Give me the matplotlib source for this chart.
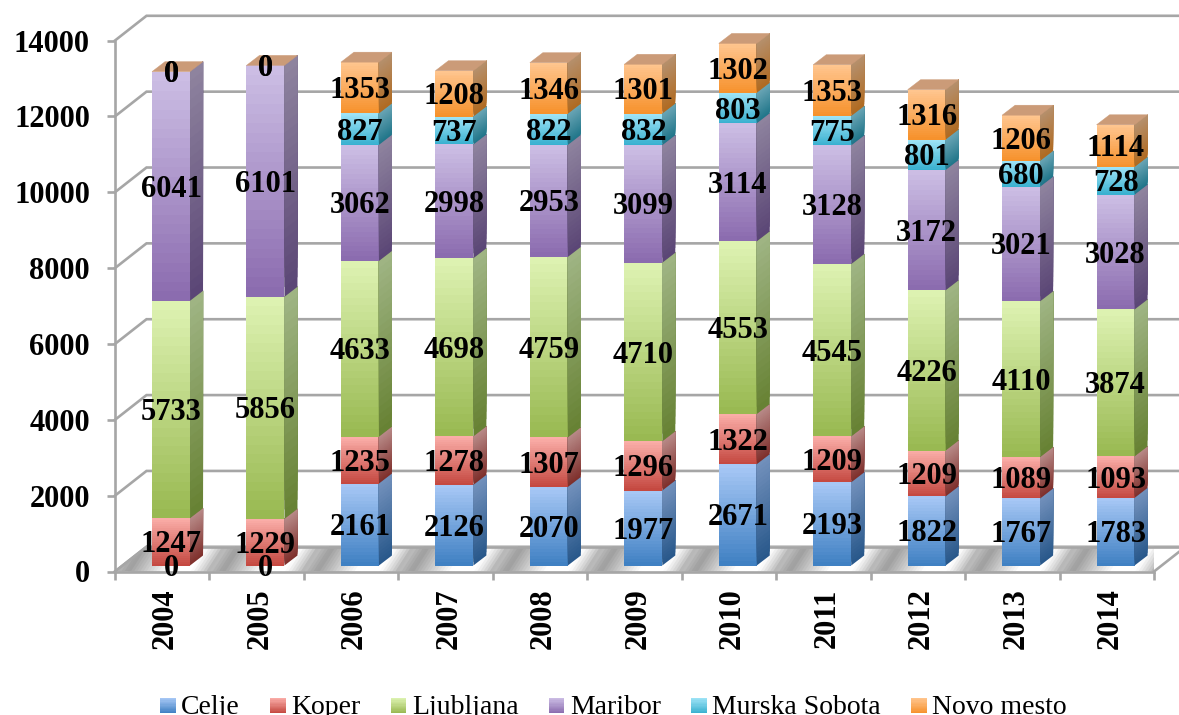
import numpy as np
import matplotlib
matplotlib.use('Agg')
import matplotlib.pyplot as plt
from matplotlib.collections import PolyCollection
from matplotlib.colors import to_rgb
from matplotlib.legend_handler import HandlerBase
from matplotlib.patches import Patch, Polygon, Rectangle
from matplotlib.transforms import ScaledTranslation

years = ['2004', '2005', '2006', '2007', '2008', '2009', '2010', '2011', '2012', '2013', '2014']
celje = [0, 0, 2161, 2126, 2070, 1977, 2671, 2193, 1822, 1767, 1783]
koper = [1247, 1229, 1235, 1278, 1307, 1296, 1322, 1209, 1209, 1089, 1093]
ljubljana = [5733, 5856, 4633, 4698, 4759, 4710, 4553, 4545, 4226, 4110, 3874]
maribor = [6041, 6101, 3062, 2998, 2953, 3099, 3114, 3128, 3172, 3021, 3028]
murska = [0, 0, 827, 737, 822, 832, 803, 775, 801, 680, 728]
novo = [0, 0, 1353, 1208, 1346, 1301, 1302, 1353, 1316, 1206, 1114]
names = ['Celje', 'Koper', 'Ljubljana', 'Maribor', 'Murska Sobota', 'Novo mesto']
series = [celje, koper, ljubljana, maribor, murska, novo]

# front top, front bottom, side top, side bottom
colors = [
    ('#A9C9F6', '#3E7FC2', '#7391BC', '#27578A'),
    ('#FBAFAA', '#C4473F', '#B88A88', '#7E2E2A'),
    ('#DEF3B3', '#98B850', '#A0B585', '#668132'),
    ('#CDBFE5', '#8A6AAE', '#8F849F', '#5A4575'),
    ('#A0E4F7', '#38B0CF', '#6AA5B5', '#1F7589'),
    ('#FFC690', '#F6912B', '#B5906D', '#B06A20'),
]
top_color = '#CB9B78'
grid_gray = '#A6A6A6'

plt.rcParams['font.family'] = ['Liberation Serif', 'DejaVu Serif']

W, H = 1179, 715
fig = plt.figure(figsize=(W / 100, H / 100), dpi=100)
# axes = front plane of the 3d box
ax = fig.add_axes([115 / W, 1 - 571.5 / H, 1039 / W, 531 / H])
ax.set_xlim(-0.5, 10.5)
ax.set_ylim(0, 14000)

px_x = 11 / 1039          # one pixel in category units
px_y = 14000 / 531        # one pixel in value units


def quads(x0, x1, y_bot, y_top, shear, c_top, c_bot, n=24, z=3):
    # vertical gradient on a sheared quad, each strip painted over the one below
    if y_top <= y_bot:
        return
    c1, c2 = np.array(to_rgb(c_top)), np.array(to_rgb(c_bot))
    ys = np.linspace(y_bot, y_top, n + 1)
    verts, cols = [], []
    for k in range(n):
        verts.append([(x0, ys[k]), (x1, ys[k] + shear), (x1, y_top + shear), (x0, y_top)])
        t = (k + 0.5) / n
        cols.append(c2 * (1 - t) + c1 * t)
    pc = PolyCollection(verts, facecolors=cols, edgecolors='none', linewidths=0, zorder=z, clip_on=False)
    ax.add_collection(pc)


# back wall + left wall
depth_x, depth_y = 31.5 * px_x, 24.7 * px_y
for v in range(0, 14001, 2000):
    ax.plot([-0.5, -0.5 + depth_x, 11], [v, v + depth_y, v + depth_y], color=grid_gray, lw=1.9,
            clip_on=False, zorder=1, solid_joinstyle='miter')

# floor
floor = Polygon([(-0.5, 0), (-0.5 + depth_x, depth_y), (10.5 + depth_x, depth_y), (10.5, 0)],
                closed=True, fc='white', ec='none', zorder=1.2, clip_on=False)
ax.add_patch(floor)
shade_v, shade_c = [], []
lean = 16 * px_x
for i in range(-1, len(years)):
    for k in range(30):
        t = k / 30
        xa = i - 0.5 + t
        g = 0.62 + 0.38 * min(1, abs(t - 0.12) * 2.4)
        g = g if t < 0.78 else 0.62 + 0.38 * (1 - (t - 0.78) / 0.22) ** 0.7
        shade_v.append([(xa, 0), (i + 0.6, 0), (i + 0.6 + lean, depth_y), (xa + lean, depth_y)])
        shade_c.append((g, g, g))
shade = PolyCollection(shade_v, facecolors=shade_c, edgecolors='none', linewidths=0, zorder=1.3)
ax.add_collection(shade)
shade.set_clip_path(floor)
ax.plot([-0.5 + depth_x, 10.5 + depth_x], [depth_y, depth_y], color=grid_gray, lw=1.9, zorder=1.4, clip_on=False)
ax.plot([10.5, 10.5 + depth_x], [0, depth_y], color=grid_gray, lw=1.9, zorder=1.4, clip_on=False)
ax.plot([-0.5, -0.5 + depth_x], [0, depth_y], color=grid_gray, lw=1.9, zorder=1.4, clip_on=False)

# bars
bar_w = 38 * px_x
off_x = 8.8 * px_x        # bar centre sits this far right of the category centre
base = 6 * px_y
side_x, side_y = 13 * px_x, 10 * px_y
for i in range(len(years)):
    xl = i + off_x - bar_w / 2
    xr = xl + bar_w
    bottom = base
    for vals, (ft, fb, st, sb) in zip(series, colors):
        top = bottom + vals[i]
        quads(xl, xr, bottom, top, 0, ft, fb)
        quads(xr, xr + side_x, bottom, top, side_y, st, sb)
        bottom = top
    ax.add_patch(Polygon([(xl, bottom), (xr, bottom), (xr + side_x, bottom + side_y), (xl + side_x, bottom + side_y)],
                         closed=True, fc=top_color, ec=top_color, lw=0.3, zorder=3, clip_on=False))

# value labels
for i in range(len(years)):
    bottom = base
    for vals in series:
        ax.text(i + off_x, bottom + vals[i] / 2 - 3 * px_y, str(vals[i]), ha='center', va='center',
                fontsize=22, fontweight='bold', color='black', zorder=5, clip_on=False)
        bottom += vals[i]

# axes decoration
for s in ['top', 'right']:
    ax.spines[s].set_visible(False)
for s in ['left', 'bottom']:
    ax.spines[s].set_color(grid_gray)
    ax.spines[s].set_linewidth(1.9)
    ax.spines[s].set_zorder(2)
ax.patch.set_alpha(0)
ax.set_yticks(range(0, 14001, 2000))
ax.tick_params(axis='y', length=6, width=1.9, color=grid_gray, labelsize=22, pad=12)
ax.set_xticks(range(len(years)))
ax.set_xticklabels(years, rotation=90)
ax.set_xticks(np.arange(-0.5, 10.6, 1), minor=True)
ax.tick_params(axis='x', which='major', length=0, labelsize=22, pad=12)
ax.tick_params(axis='x', which='minor', length=6, width=1.9, color=grid_gray)
for lab in ax.get_xticklabels() + ax.get_yticklabels():
    lab.set_fontweight('bold')
shift = ScaledTranslation(2.5 / 72, 0, fig.dpi_scale_trans)
for lab in ax.get_xticklabels():
    lab.set_transform(lab.get_transform() + shift)


class GradHandler(HandlerBase):
    def __init__(self, c_top, c_bot):
        super().__init__()
        self.c_top = np.array(to_rgb(c_top))
        self.c_bot = np.array(to_rgb(c_bot))

    def create_artists(self, legend, orig_handle, xdescent, ydescent, width, height, fontsize, trans):
        arts = []
        n = 12
        side = 15.5 / 100 * 72
        y0 = 0.5
        for k in range(n):
            t = (k + 0.5) / n
            c = self.c_bot * (1 - t) + self.c_top * t
            arts.append(Rectangle((0, y0 + side * k / n), side, side / n + 0.1, fc=c, ec='none', transform=trans))
        return arts


handles = [Patch(label=n) for n in names]
hmap = {h: GradHandler(c[0], c[1]) for h, c in zip(handles, colors)}
fig.legend(handles=handles, handler_map=hmap, ncols=6, loc='lower left',
           bbox_to_anchor=(160 / W, -5 / H), frameon=False, fontsize=20,
           handlelength=0.56, handletextpad=0.2, columnspacing=1.09, borderpad=0, borderaxespad=0)

fig.savefig('out.png', dpi=100)
